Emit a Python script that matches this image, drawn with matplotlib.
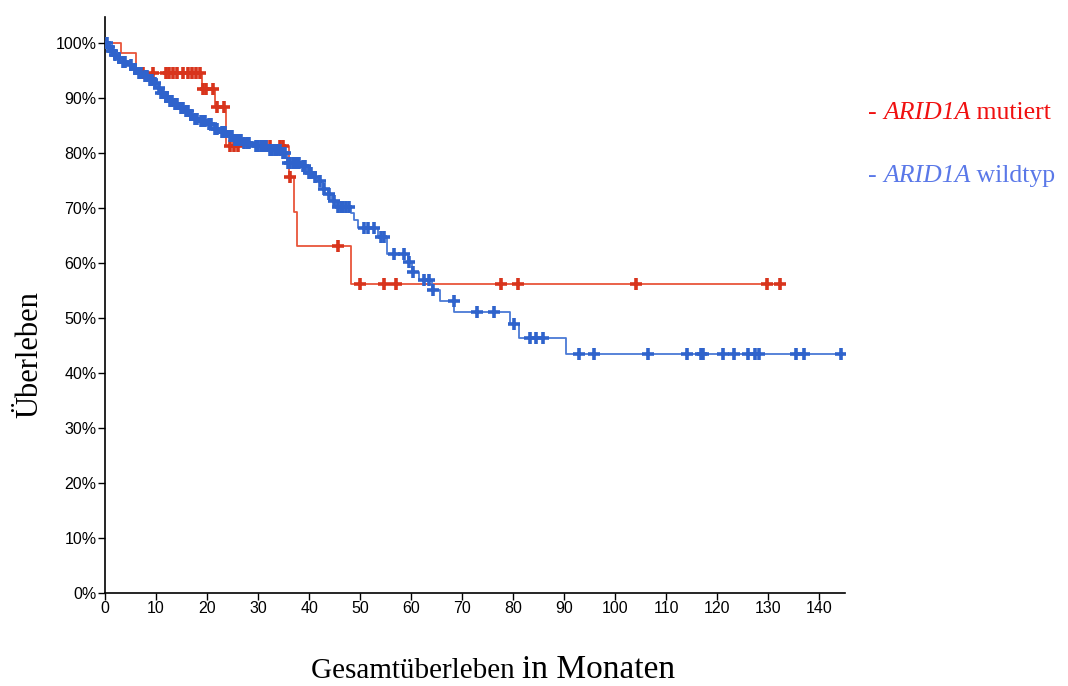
import numpy as np
import matplotlib
matplotlib.use("Agg")
import matplotlib.pyplot as plt

# ARID1A mutiert: event times (months) and survival after each step
mut_t = [3.1, 6.1, 19.0, 21.6, 23.8, 36.0, 37.0, 37.6, 48.3]
mut_s = [0.981, 0.946, 0.916, 0.884, 0.813, 0.756, 0.693, 0.630, 0.561]
mut_cens = [7.5, 9.5, 12.0, 12.6, 13.3, 14.2, 15.2, 16.2, 17.0, 17.8, 18.6,
            19.3, 19.8, 21.2, 21.9, 23.4, 24.5, 25.2, 26.0, 31.5, 32.3, 34.2,
            34.8, 36.3, 45.6, 50.0, 54.7, 57.0, 77.6, 80.9, 104.0, 129.8, 132.2]

# ARID1A wildtyp
wt_t = [0.5, 1.0, 1.6, 2.4, 3.0, 4.5, 5.5, 6.2, 7.5, 8.5, 9.5, 10.2, 10.8, 11.6,
        12.5, 13.5, 14.5, 15.5, 16.5, 17.3, 18.5, 20.0, 21.3, 22.6, 24.0, 25.2,
        27.0, 29.0, 32.0, 34.5, 35.7, 38.5, 39.6, 40.8, 41.8, 42.8, 43.6, 44.5,
        45.3, 48.2, 48.8, 49.5, 53.4, 55.2, 59.3, 60.1, 61.5, 64.0, 65.6, 68.4,
        79.4, 81.1, 90.4]
wt_s = [0.993, 0.986, 0.978, 0.972, 0.966, 0.960, 0.952, 0.945, 0.939, 0.933,
        0.927, 0.918, 0.909, 0.901, 0.894, 0.888, 0.882, 0.876, 0.869, 0.862,
        0.858, 0.853, 0.844, 0.838, 0.830, 0.824, 0.818, 0.812, 0.805, 0.799,
        0.781, 0.776, 0.763, 0.756, 0.748, 0.735, 0.725, 0.712, 0.702, 0.691,
        0.678, 0.663, 0.648, 0.617, 0.602, 0.584, 0.569, 0.551, 0.531, 0.511,
        0.489, 0.464, 0.434]
wt_cens = [0.3, 0.8, 1.3, 1.9, 2.7, 3.5, 4.0, 5.0, 5.8, 6.6, 7.0, 7.8, 8.2, 8.8,
           9.2, 9.8, 10.5, 11.0, 11.3, 11.9, 12.2, 12.8, 13.1, 13.8, 14.2, 14.8,
           15.2, 15.8, 16.2, 16.8, 17.6, 18.0, 18.8, 19.2, 19.6, 20.4, 20.8, 21.6,
           22.0, 22.9, 23.3, 23.6, 24.4, 24.8, 25.5, 25.9, 26.3, 26.7, 27.3, 27.8,
           28.3, 29.5, 30.0, 30.5, 31.0, 31.5, 32.3, 32.8, 33.3, 33.8, 34.2, 34.8,
           35.2, 35.9, 36.3, 36.8, 37.2, 37.6, 38.0, 38.8, 39.2, 40.0, 40.4, 41.2,
           42.2, 43.0, 43.9, 44.8, 45.6, 46.2, 46.7, 47.3, 47.9, 50.7, 51.5, 52.7,
           54.0, 54.6, 56.6, 58.5, 59.5, 60.4, 62.5, 63.5, 64.3, 68.3, 72.8, 76.2,
           80.2, 83.3, 84.5, 85.9, 92.8, 95.8, 106.4, 114.1, 116.8, 117.2, 121.0,
           123.2, 125.9, 127.4, 128.1, 135.4, 136.9, 144.3]

xticks = list(range(0, 141, 10))
yticks = [i / 10 for i in range(11)]

red_line = '#e8553a'
red_mark = '#d8341c'
blue_line = '#4a7ad6'
blue_mark = '#2f63cc'


def km_curve(times, surv, cens):
    t = np.concatenate([[0.0], times, [max(cens)]])
    s = np.concatenate([[1.0], surv, [surv[-1]]])
    idx = np.searchsorted(times, cens, side='right')
    cs = np.concatenate([[1.0], surv])[idx]
    return t, s, np.array(cens), cs


fig = plt.figure(figsize=(10.68, 6.86), dpi=100)
ax = fig.add_axes([105 / 1068, 93 / 686, 740 / 1068, 576 / 686])

for times, surv, cens, lc, mc in [(mut_t, mut_s, mut_cens, red_line, red_mark),
                                   (wt_t, wt_s, wt_cens, blue_line, blue_mark)]:
    t, s, ct, cs = km_curve(times, surv, cens)
    ax.step(t, s, where='post', color=lc, lw=1.3, zorder=2)
    ax.plot(ct, cs, ls='none', marker='+', ms=8, mew=2.6, color=mc, zorder=3)

ax.set_xlim(0, 145)
ax.set_ylim(0, 1.047)
ax.set_xticks(xticks)
ax.set_yticks(yticks)
ax.set_yticklabels([f'{int(round(v * 100))}%' for v in yticks])
tick_font = ['Liberation Sans Narrow', 'Liberation Sans', 'DejaVu Sans']
for lab in ax.get_xticklabels() + ax.get_yticklabels():
    lab.set_family(tick_font)
    lab.set_fontsize(11.5)
ax.tick_params(length=5, width=1, pad=1, colors='black')
ax.spines['top'].set_visible(False)
ax.spines['right'].set_visible(False)
for sp in ['left', 'bottom']:
    ax.spines[sp].set_linewidth(1.2)

serif = ['Liberation Serif', 'DejaVu Serif']
fig.text(30 / 1068, 1 - 355 / 686, 'Überleben', rotation=90, ha='center',
         va='center', fontsize=22, family=serif)
fig.text(522 / 1068, 1 - 678 / 686, 'Gesamtüberleben ', ha='right',
         va='baseline', fontsize=21, family=serif)
fig.text(522 / 1068, 1 - 678 / 686, 'in Monaten', ha='left', va='baseline',
         fontsize=24, family=serif)

# legend as coloured text
for y, col, word in [(113, '#f01010', ' mutiert'), (176, '#5a78e8', ' wildtyp')]:
    t1 = fig.text(868 / 1068, 1 - y / 686, '- ', color=col, fontsize=18.5,
                  family=serif, va='center')
    t2 = ax.annotate('ARID1A', xy=(1, 0), xycoords=t1, va='bottom',
                     color=col, fontsize=18.5, family=serif, style='italic',
                     annotation_clip=False)
    ax.annotate(word, xy=(1, 0), xycoords=t2, va='bottom', color=col,
                fontsize=18.5, family=serif, annotation_clip=False)

fig.savefig('out.png', dpi=100)
